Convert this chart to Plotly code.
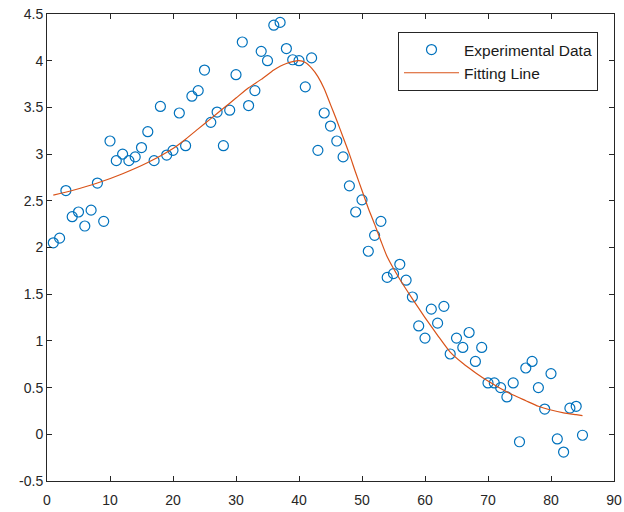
import plotly.graph_objects as go

exp_x = list(range(1, 86))
exp_y = [
    2.05, 2.10, 2.61, 2.33, 2.38, 2.23, 2.40, 2.69, 2.28, 3.14,
    2.93, 3.00, 2.93, 2.97, 3.07, 3.24, 2.93, 3.51, 2.99, 3.04,
    3.44, 3.09, 3.62, 3.68, 3.90, 3.34, 3.45, 3.09, 3.47, 3.85,
    4.20, 3.52, 3.68, 4.10, 4.00, 4.38, 4.41, 4.13, 4.01, 4.00,
    3.72, 4.03, 3.04, 3.44, 3.30, 3.14, 2.97, 2.66, 2.38, 2.51,
    1.96, 2.13, 2.28, 1.68, 1.72, 1.82, 1.65, 1.47, 1.16, 1.03,
    1.34, 1.19, 1.37, 0.86, 1.03, 0.93, 1.09, 0.78, 0.93, 0.55,
    0.55, 0.50, 0.40, 0.55, -0.08, 0.71, 0.78, 0.50, 0.27, 0.65,
    -0.05, -0.19, 0.28, 0.30, -0.01,
]

# Fitting line
fit_x = [1, 4, 8, 12, 16, 20, 22, 24, 26, 28, 30, 32, 34, 36, 37, 38, 39, 40,
         41, 42, 43, 44, 45, 46, 47, 48, 49, 50, 51, 52, 53, 54, 56, 58, 60,
         62, 64, 66, 68, 70, 72, 74, 76, 78, 80, 82, 84, 85]
fit_y = [2.56, 2.61, 2.69, 2.79, 2.91, 3.06, 3.16, 3.27, 3.38, 3.49, 3.60,
         3.71, 3.80, 3.90, 3.94, 3.97, 3.99, 4.00, 3.98, 3.92, 3.83, 3.70,
         3.53, 3.36, 3.18, 3.00, 2.80, 2.61, 2.42, 2.25, 2.07, 1.90, 1.66,
         1.45, 1.25, 1.06, 0.88, 0.76, 0.66, 0.57, 0.49, 0.42, 0.36, 0.30,
         0.26, 0.23, 0.21, 0.20]

x_ticks = [0, 10, 20, 30, 40, 50, 60, 70, 80, 90]
x_labels = ["0", "10", "20", "30", "40", "50", "60", "70", "80", "90"]
y_ticks = [-0.5, 0, 0.5, 1, 1.5, 2, 2.5, 3, 3.5, 4, 4.5]
y_labels = ["-0.5", "0", "0.5", "1", "1.5", "2", "2.5", "3", "3.5", "4", "4.5"]

axis_col = "#262626"
font_family = "Liberation Sans, Arial, sans-serif"

fig = go.Figure()
fig.add_trace(go.Scatter(
    x=exp_x, y=exp_y, mode="markers", name="Experimental Data",
    marker=dict(symbol="circle-open", size=10, color="#0072BD",
                line=dict(width=1.2, color="#0072BD")),
))
fig.add_trace(go.Scatter(
    x=fit_x, y=fit_y, mode="lines", name="Fitting Line",
    line=dict(color="#D95319", width=1.2, shape="spline", smoothing=0.6),
))

axis_common = dict(
    showgrid=False, zeroline=False, showline=True, linecolor=axis_col,
    linewidth=1, mirror="allticks", ticks="inside", ticklen=5,
    tickcolor=axis_col, automargin=False,
    tickfont=dict(family=font_family, size=14, color=axis_col),
)

fig.update_layout(
    width=624, height=512,
    margin=dict(l=47, r=10, t=14, b=31),
    paper_bgcolor="white", plot_bgcolor="white",
    font=dict(family=font_family, color=axis_col),
    xaxis=dict(range=[0, 90], tickvals=x_ticks, ticktext=x_labels,
               ticklabelstandoff=6, **axis_common),
    yaxis=dict(range=[-0.5, 4.5], tickvals=y_ticks, ticktext=y_labels, **axis_common),
    legend=dict(
        x=(598 - 47) / 567, y=(481 - 32) / 467, xanchor="right", yanchor="top",
        bordercolor=axis_col, borderwidth=1, bgcolor="white",
        font=dict(family=font_family, size=15.5, color="#1a1a1a"),
        tracegroupgap=0, itemwidth=55,
    ),
    showlegend=True,
)

fig.write_html(
    "out.html",
    config={"displayModeBar": False},
    post_script="document.body.style.margin='0';document.body.style.overflow='hidden';",
)
